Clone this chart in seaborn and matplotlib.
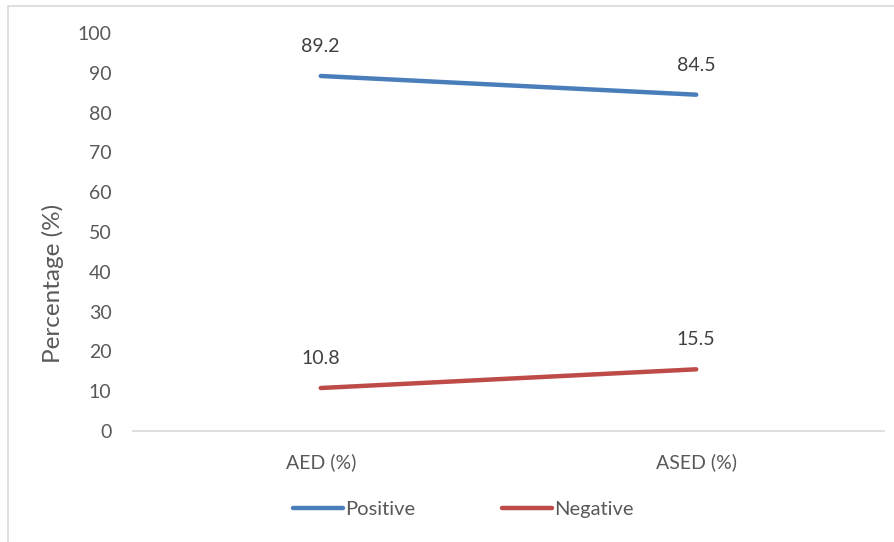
import matplotlib
matplotlib.use("Agg")
import matplotlib.pyplot as plt
import seaborn as sns
import pandas as pd
from matplotlib.patches import Rectangle

categories = ["AED (%)", "ASED (%)"]
positive = [89.2, 84.5]
negative = [10.8, 15.5]
series_names = ["Positive", "Negative"]
colors = ["#4A7EBB", "#BE4B48"]

df = pd.DataFrame({
    "Category": categories * 2,
    "Value": positive + negative,
    "Series": [series_names[0]] * 2 + [series_names[1]] * 2,
})

sns.set_theme(style="white")
plt.rcParams["font.family"] = ["Lato", "DejaVu Sans"]
text_color = "#595959"

fig = plt.figure(figsize=(8.94, 5.42), dpi=100)
ax = fig.add_axes([133 / 894, 1 - 431 / 542, (884 - 133) / 894, (431 - 33) / 542])

sns.lineplot(data=df, x="Category", y="Value", hue="Series", palette=colors,
             linewidth=3.2, ax=ax, sort=False, legend=True)
for line in ax.get_lines():
    line.set_solid_capstyle("round")

ax.set_xlim(-0.5, 1.5)
ax.set_ylim(0, 100)
ax.set_yticks(range(0, 101, 10))
ax.tick_params(axis="both", length=0, labelsize=14, colors=text_color)
ax.tick_params(axis="y", pad=15.5)
ax.tick_params(axis="x", pad=16)
ax.set_xlabel("")
ax.set_ylabel("Percentage (%)", fontsize=17.5, color=text_color)
ax.yaxis.label.set_va("center")
ax.yaxis.set_label_coords(-0.1065, 0.372)

for side in ["top", "right", "left"]:
    ax.spines[side].set_visible(False)
ax.spines["bottom"].set_color("#D9D9D9")
ax.spines["bottom"].set_linewidth(1.2)

# value labels above each point
for vals in (positive, negative):
    for i, v in enumerate(vals):
        ax.annotate(f"{v}", (i, v), xytext=(0, 15), textcoords="offset points",
                    ha="center", va="bottom", fontsize=14, color="#404040")

handles, labels = ax.get_legend_handles_labels()
ax.legend(handles, labels, loc="center", bbox_to_anchor=(0.44, -0.198),
          ncol=2, frameon=False, fontsize=14.5, handlelength=2.5,
          handletextpad=0.1, columnspacing=4.3, labelcolor=text_color)

fig.patches.append(Rectangle((8 / 894, -0.05), 1.2, 1 - 6 / 542 + 0.05,
                             transform=fig.transFigure, fill=False,
                             edgecolor="#D9D9D9", linewidth=1.2))

fig.savefig("out.png", dpi=100)
